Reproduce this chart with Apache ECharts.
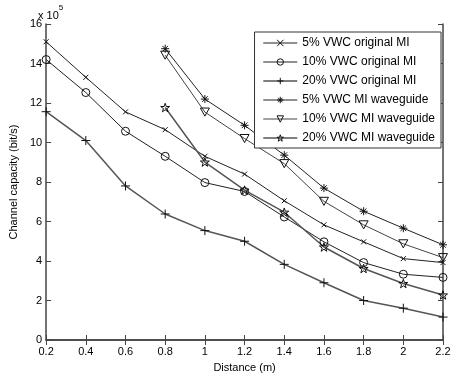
<!DOCTYPE html>
<html>
<head>
    <meta charset="UTF-8">
    <title>Channel capacity</title>
    <script src="https://cdn.jsdelivr.net/npm/echarts@6/dist/echarts.min.js"></script>
    <style>
        body, html {
            margin: 0;
            padding: 0;
            background: #fff;
        }
        #chart {
            width: 457px;
            height: 378px;
        }
    </style>
</head>
<body>
<div id="chart"></div>
<script>
    // distances (m)
    var distOrig = [0.2, 0.4, 0.6, 0.8, 1.0, 1.2, 1.4, 1.6, 1.8, 2.0, 2.2];
    var distWave = [0.8, 1.0, 1.2, 1.4, 1.6, 1.8, 2.0, 2.2];

    // channel capacity, x 10^5 bit/s
    var orig5 = [15.1, 13.3, 11.55, 10.65, 9.3, 8.4, 7.05, 5.83, 4.97, 4.12, 3.92];
    var orig10 = [14.2, 12.53, 10.57, 9.3, 7.97, 7.52, 6.23, 4.97, 3.92, 3.33, 3.17];
    var orig20 = [11.56, 10.1, 7.8, 6.38, 5.54, 5.0, 3.83, 2.9, 2.0, 1.61, 1.16];
    var wave5 = [14.75, 12.2, 10.87, 9.36, 7.69, 6.52, 5.66, 4.82];
    var wave10 = [14.42, 11.54, 10.2, 8.93, 7.02, 5.83, 4.87, 4.17];
    var wave20 = [11.77, 9.01, 7.59, 6.47, 4.71, 3.62, 2.86, 2.28];

    var yTicks = [0, 2, 4, 6, 8, 10, 12, 14, 16];

    function pairs(xs, ys) {
        return xs.map(function (x, i) { return [x, ys[i]]; });
    }

    // marker shapes (MATLAB style)
    var symX = 'path://M0,0 L10,10 M10,0 L0,10';
    var symPlus = 'path://M5,0 L5,10 M0,5 L10,5';
    var symStar = 'path://M5,0 L5,10 M0,5 L10,5 M1.5,1.5 L8.5,8.5 M8.5,1.5 L1.5,8.5';
    var symTri = 'path://M0,0 L10,0 L5,9 Z';
    var symPent = 'path://M5,0 L6.2,3.6 L10,3.6 L6.9,5.9 L8.1,9.5 L5,7.3 L1.9,9.5 L3.1,5.9 L0,3.6 L3.8,3.6 Z';

    var legendNames = ['5% VWC original MI', '10% VWC original MI', '20% VWC original MI',
        '5% VWC MI waveguide', '10% VWC MI waveguide', '20% VWC MI waveguide'];
    var legendSyms = [symX, 'circle', symPlus, symStar, symTri, symPent];
    var lineColors = ['#222', '#222', '#555', '#222', '#444', '#555'];
    var lineWidths = [1, 1, 1.5, 1, 1, 1.5];
    var symSizes = [5, 8, 9, 8, 9, 9];
    var distances = [distOrig, distOrig, distOrig, distWave, distWave, distWave];
    var values = [orig5, orig10, orig20, wave5, wave10, wave20];

    var chart = echarts.init(document.getElementById('chart'), null, {renderer: 'canvas'});
    var font = 'Liberation Sans, Arial, sans-serif';
    var axisLine = {show: true, lineStyle: {color: '#444', width: 1.5}};
    var hollow = {color: 'rgba(255,255,255,0)', borderColor: '#111', borderWidth: 1};

    var series = legendNames.map(function (name, i) {
        return {
            name: name,
            type: 'line',
            data: pairs(distances[i], values[i]),
            symbol: legendSyms[i],
            symbolSize: symSizes[i],
            symbolKeepAspect: true,
            showAllSymbol: true,
            lineStyle: {color: lineColors[i], width: lineWidths[i]},
            itemStyle: hollow,
            emphasis: {disabled: true},
            animation: false
        };
    });

    chart.setOption({
        backgroundColor: '#fff',
        animation: false,
        grid: {left: 41, right: 14, top: 24, bottom: 36},
        legend: {
            orient: 'vertical',
            right: 16,
            top: 32,
            itemWidth: 34,
            itemHeight: 8,
            itemGap: 7,
            padding: [5, 6, 4, 8],
            borderColor: '#333',
            borderWidth: 1,
            backgroundColor: '#fff',
            itemStyle: hollow,
            textStyle: {fontFamily: font, fontSize: 12, color: '#000'},
            data: legendNames.map(function (n, i) {
                return {name: n, lineStyle: {color: lineColors[i], width: lineWidths[i]}};
            })
        },
        graphic: [{
            type: 'text',
            left: 38,
            top: 4,
            style: {
                text: '{a|x 10}{b|5}',
                rich: {
                    a: {fontFamily: font, fontSize: 11, fill: '#000', padding: [6, 0, 0, 0]},
                    b: {fontFamily: font, fontSize: 8, fill: '#000', verticalAlign: 'top'}
                }
            }
        }],
        xAxis: [{
            type: 'value',
            min: 0.2,
            max: 2.2,
            interval: 0.2,
            name: 'Distance (m)',
            nameLocation: 'middle',
            nameGap: 22,
            nameTextStyle: {fontFamily: font, fontSize: 11, color: '#000'},
            axisLine: axisLine,
            axisTick: {show: true, inside: true, length: 5, lineStyle: {color: '#444'}},
            axisLabel: {
                fontFamily: font, fontSize: 11, color: '#000', margin: 6,
                formatter: function (v) { return String(+v.toFixed(1)); }
            },
            splitLine: {show: false}
        }, {
            type: 'value',
            position: 'top',
            min: 0.2,
            max: 2.2,
            interval: 0.2,
            axisLine: axisLine,
            axisTick: {show: true, inside: true, length: 5, lineStyle: {color: '#444'}},
            axisLabel: {show: false},
            splitLine: {show: false}
        }],
        yAxis: [{
            type: 'value',
            min: yTicks[0],
            max: yTicks[yTicks.length - 1],
            interval: 2,
            name: 'Channel capacity (bit/s)',
            nameLocation: 'middle',
            nameGap: 27,
            nameTextStyle: {fontFamily: font, fontSize: 11, color: '#000'},
            axisLine: axisLine,
            axisTick: {show: true, inside: true, length: 5, lineStyle: {color: '#444'}},
            axisLabel: {fontFamily: font, fontSize: 11, color: '#000', margin: 4},
            splitLine: {show: false}
        }, {
            type: 'value',
            position: 'right',
            min: yTicks[0],
            max: yTicks[yTicks.length - 1],
            interval: 2,
            axisLine: axisLine,
            axisTick: {show: true, inside: true, length: 5, lineStyle: {color: '#444'}},
            axisLabel: {show: false},
            splitLine: {show: false}
        }],
        series: series
    });
</script>
</body>
</html>
